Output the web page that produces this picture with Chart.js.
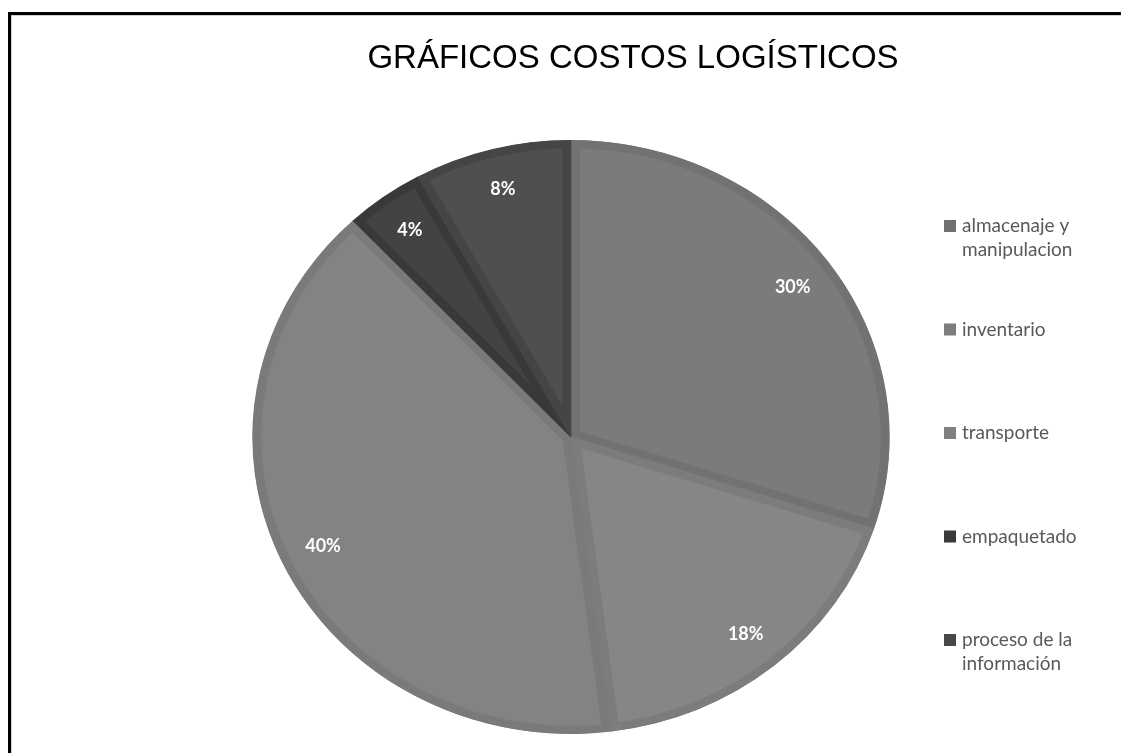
<!DOCTYPE html>
<html lang="es">
<head>
<meta charset="utf-8">
<title>Gráficos costos logísticos</title>
<script src="https://cdn.jsdelivr.net/npm/chart.js@4.4.0/dist/chart.umd.min.js"></script>
<style>
  html, body { margin: 0; padding: 0; background: #ffffff; }
  canvas { display: block; }
</style>
</head>
<body>
<canvas id="costosChart" width="1121" height="753"></canvas>
<script>
// Datos del gráfico
const titulo = "GRÁFICOS COSTOS LOGÍSTICOS";
const categorias = [
  ["almacenaje y", "manipulacion"],
  ["inventario"],
  ["transporte"],
  ["empaquetado"],
  ["proceso de la", "información"],
];
const porcentajes = [30, 18, 40, 4, 8];

// Tonos de gris de cada porción (relleno, borde y cuadro de la leyenda)
const rellenos = ["#7b7b7b", "#868686", "#838383", "#434343", "#4f4f4f"];
const bordes = ["#727272", "#7c7c7c", "#7a7a7a", "#393939", "#454545"];
const cuadros = ["#707070", "#7d7d7d", "#7f7f7f", "#3a3a3a", "#484848"];

// El pastel se dibuja algo más ancho que alto
const estiramientoX = 1.073;

// Fondo blanco y marco negro arriba y a la izquierda
const marcoPlugin = {
  id: "marco",
  beforeDraw(chart) {
    const ctx = chart.ctx;
    ctx.save();
    ctx.fillStyle = "#ffffff";
    ctx.fillRect(0, 0, chart.width, chart.height);
    ctx.fillStyle = "#000000";
    ctx.fillRect(8, 12, 3, chart.height - 12);
    ctx.fillRect(8, 12, chart.width - 8, 3);
    ctx.fillStyle = "#cfcfcf";
    ctx.fillRect(11, 15, 1, chart.height - 15);
    ctx.fillRect(11, 15, chart.width - 11, 1);
    ctx.restore();
  },
};

// Estira las porciones en horizontal y pone los porcentajes encima
const pastelPlugin = {
  id: "pastel",
  beforeDatasetsDraw(chart) {
    const arc = chart.getDatasetMeta(0).data[0];
    const ctx = chart.ctx;
    ctx.save();
    ctx.translate(arc.x, 0);
    ctx.scale(estiramientoX, 1);
    ctx.translate(-arc.x, 0);
  },
  afterDatasetsDraw(chart) {
    const ctx = chart.ctx;
    ctx.restore();

    ctx.save();
    ctx.fillStyle = "#ffffff";
    ctx.font = "bold 18px Lato";
    ctx.textAlign = "center";
    ctx.textBaseline = "middle";
    chart.getDatasetMeta(0).data.forEach((arc, i) => {
      const p = arc.getProps(["x", "y", "startAngle", "endAngle", "outerRadius"], true);
      const medio = (p.startAngle + p.endAngle) / 2;
      const r = p.outerRadius * 0.86;
      const x = p.x + Math.cos(medio) * r * estiramientoX;
      const y = p.y + Math.sin(medio) * r;
      ctx.fillText(porcentajes[i] + "%", x, y);
    });
    ctx.restore();
  },
};

// Título y leyenda a la derecha
const textosPlugin = {
  id: "textos",
  afterDraw(chart) {
    const ctx = chart.ctx;
    ctx.save();

    ctx.fillStyle = "#000000";
    ctx.font = "33px 'Liberation Sans', Arial, sans-serif";
    ctx.textAlign = "center";
    ctx.textBaseline = "middle";
    ctx.fillText(titulo, 633, 59);

    ctx.font = "19px Lato";
    ctx.textAlign = "left";
    categorias.forEach((lineas, i) => {
      const y0 = 226 + i * 103.5;
      ctx.fillStyle = cuadros[i];
      ctx.fillRect(944, y0 - 6, 12, 12);
      ctx.fillStyle = "#595959";
      lineas.forEach((linea, j) => {
        ctx.fillText(linea, 962, y0 + j * 24);
      });
    });

    ctx.restore();
  },
};

new Chart(document.getElementById("costosChart"), {
  type: "pie",
  data: {
    labels: categorias.map((l) => l.join(" ")),
    datasets: [
      {
        data: porcentajes,
        backgroundColor: rellenos,
        borderColor: bordes,
        borderWidth: 8,
        borderAlign: "inner",
      },
    ],
  },
  options: {
    responsive: false,
    animation: false,
    events: [],
    layout: {
      padding: { left: 274, right: 253, top: 140, bottom: 19 },
    },
    plugins: {
      legend: { display: false },
      title: { display: false },
      tooltip: { enabled: false },
    },
  },
  plugins: [marcoPlugin, pastelPlugin, textosPlugin],
});
</script>
</body>
</html>
